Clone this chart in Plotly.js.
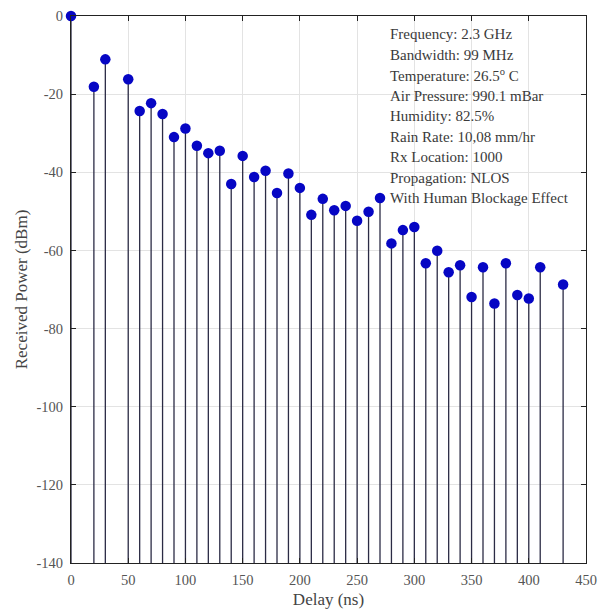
<!DOCTYPE html>
<html>
<head>
<meta charset="utf-8">
<script src="https://cdn.plot.ly/plotly-3.0.1.min.js"></script>
<style>html,body{margin:0;padding:0;background:#fff}#chart{width:606px;height:612px}</style>
</head>
<body>
<div id="chart"></div>
<script>
const delays = [0,20,30,50,60,70,80,90,100,110,120,130,140,150,160,170,180,190,200,210,220,230,240,250,260,270,280,290,300,310,320,330,340,350,360,370,380,390,400,410,430];
const power = [0,-18.1,-11.1,-16.2,-24.3,-22.3,-25.1,-31.0,-28.8,-33.2,-35.1,-34.5,-43.0,-35.8,-41.2,-39.6,-45.3,-40.3,-44.0,-50.9,-46.8,-49.7,-48.6,-52.4,-50.1,-46.6,-58.2,-54.8,-54.0,-63.3,-60.1,-65.6,-63.8,-71.9,-64.3,-73.6,-63.3,-71.4,-72.3,-64.3,-68.7];
const baseValue = -140;
const xTicks = [0,50,100,150,200,250,300,350,400,450];
const yTicks = [0,-20,-40,-60,-80,-100,-120,-140];
const yTickText = ['0','-20','-40','-60','-80','-100','-120','-140'];
const infoLines = ['Frequency: 2.3 GHz','Bandwidth: 99 MHz','Temperature: 26.5<sup>o</sup> C','Air Pressure: 990.1 mBar','Humidity: 82.5%','Rain Rate: 10,08 mm/hr','Rx Location: 1000','Propagation: NLOS','With Human Blockage Effect'];

const trace = {
  type: 'scatter', mode: 'markers', x: delays, y: power, cliponaxis: false,
  marker: {color: '#0606c4', size: 10.5, line: {width: 0}},
  error_y: {type: 'data', symmetric: false, array: power.map(() => 0),
            arrayminus: power.map(v => v - baseValue), color: '#2b2b45', thickness: 1.3, width: 0},
  hoverinfo: 'x+y'
};

const L = 70.7, R = 586, T = 15.7, B = 563;
const font = {family: '"Liberation Serif", "Times New Roman", serif', color: '#444'};
const annotations = infoLines.map((t, i) => ({
  xref: 'paper', yref: 'paper', x: (387.5 - L) / (R - L), y: 1 - (34 + i * 20.5 - T) / (B - T),
  xanchor: 'left', yanchor: 'middle', text: t, showarrow: false,
  font: {family: font.family, size: 15, color: '#3a3a3a'}
}));

const layout = {
  width: 606, height: 612,
  margin: {l: L, r: 606 - R, t: T, b: 612 - B},
  paper_bgcolor: '#fff', plot_bgcolor: '#fff',
  showlegend: false,
  font: font,
  xaxis: {range: [0, 450], tickvals: xTicks, ticks: 'inside', ticklen: 5, tickcolor: '#222',
          showline: true, linecolor: '#222', linewidth: 1, mirror: 'ticks',
          showgrid: true, gridcolor: '#e3e3e3', zeroline: false, ticklabelstandoff: 4,
          tickfont: {family: font.family, size: 14.5, color: '#555'},
          title: {text: 'Delay (ns)', font: {family: font.family, size: 17, color: '#444'}, standoff: 5}},
  yaxis: {range: [-140, 0], tickvals: yTicks, ticktext: yTickText, ticks: 'inside', ticklen: 5, tickcolor: '#222',
          showline: true, linecolor: '#222', linewidth: 1, mirror: 'ticks',
          showgrid: true, gridcolor: '#e3e3e3', zeroline: false, ticklabelstandoff: 4,
          tickfont: {family: font.family, size: 14.5, color: '#555'},
          title: {text: 'Received Power (dBm)', font: {family: font.family, size: 17, color: '#444'}, standoff: 4}},
  annotations: annotations
};

Plotly.newPlot('chart', [trace], layout, {displayModeBar: false, staticPlot: true});
</script>
</body>
</html>
